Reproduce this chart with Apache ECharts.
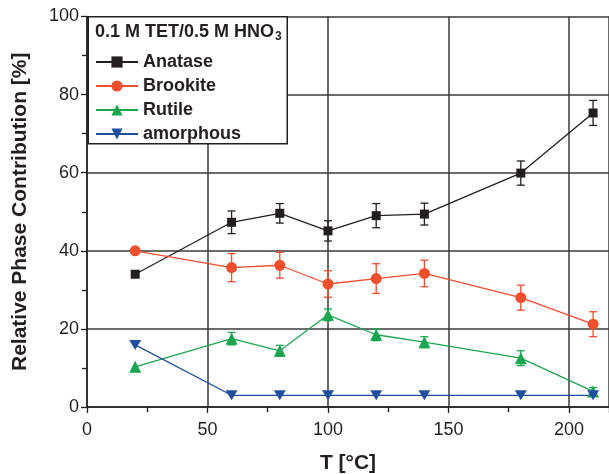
<!DOCTYPE html>
<html><head><meta charset="utf-8">
<script src="https://cdn.jsdelivr.net/npm/echarts@6/dist/echarts.min.js"></script>
<style>html,body{margin:0;padding:0;background:#fff}#c{width:609px;height:474px}</style>
</head><body><div id="c"></div>
<script>
const temps = [20, 60, 80, 100, 120, 140, 180, 210];
const anatase = [34.0, 47.3, 49.6, 45.1, 49.0, 49.4, 59.9, 75.3];
const anataseErr = [0, 2.9, 2.5, 2.6, 3.1, 2.8, 3.1, 3.2];
const brookite = [40.0, 35.7, 36.3, 31.5, 32.9, 34.2, 28.0, 21.2];
const brookiteErr = [0, 3.6, 3.3, 3.4, 3.8, 3.4, 3.2, 3.2];
const rutile = [10.3, 17.5, 14.4, 23.6, 18.5, 16.6, 12.5, 4.0];
const rutileErr = [0, 1.6, 1.4, 1.5, 1.5, 1.4, 1.9, 1.0];
const amorphous = [15.9, 3.0, 3.0, 3.0, 3.0, 3.0, 3.0, 3.0];
const seriesNames = ['Anatase', 'Brookite', 'Rutile', 'amorphous'];
const legendTitle = '0.1 M TET/0.5 M HNO';
const legendTitleSub = '3';
const xTicks = [0, 50, 100, 150, 200];
const yTicks = [0, 20, 40, 60, 80, 100];

const colors = ['#231f20', '#ef4f2d', '#1aa650', '#1f4f9f'];
const FONT = '"Liberation Sans", Arial, sans-serif';
const ink = '#231f20';

function pts(vals) { return temps.map((t, i) => [t, vals[i]]); }
function errData(vals, errs) { return temps.map((t, i) => [t, vals[i], errs[i]]); }

function errSeries(vals, errs, color) {
  return {
    type: 'custom',
    data: errData(vals, errs),
    z: 1,
    silent: true,
    renderItem: function (params, api) {
      const x = api.value(0), y = api.value(1), e = api.value(2);
      if (!e) return null;
      const top = api.coord([x, y + e]);
      const bot = api.coord([x, y - e]);
      const w = 4;
      return {
        type: 'group',
        children: [
          { type: 'line', shape: { x1: top[0], y1: top[1], x2: bot[0], y2: bot[1] }, style: { stroke: color, lineWidth: 1.3 } },
          { type: 'line', shape: { x1: top[0] - w, y1: top[1], x2: top[0] + w, y2: top[1] }, style: { stroke: color, lineWidth: 1.3 } },
          { type: 'line', shape: { x1: bot[0] - w, y1: bot[1], x2: bot[0] + w, y2: bot[1] }, style: { stroke: color, lineWidth: 1.3 } }
        ]
      };
    }
  };
}

function lineSeries(name, vals, color, symbol, size, rot) {
  return {
    name: name, type: 'line', data: pts(vals), z: 3,
    symbol: symbol, symbolSize: size, symbolRotate: rot || 0,
    showAllSymbol: true,
    lineStyle: { color: color, width: 1.3 },
    itemStyle: { color: color, borderWidth: 0 },
    emphasis: { disabled: true },
    animation: false
  };
}

const chart = echarts.init(document.getElementById('c'), null, { renderer: 'canvas' });
chart.setOption({
  animation: false,
  backgroundColor: '#fff',
  grid: { left: 87, right: 0, top: 16.5, bottom: 67, containLabel: false, outerBoundsMode: 'none' },
  xAxis: {
    type: 'value', min: 0, max: 216.6, interval: 50,
    name: 'T [°C]', nameLocation: 'middle', nameGap: 46,
    nameTextStyle: { fontFamily: FONT, fontWeight: 'bold', fontSize: 21, color: ink },
    axisLine: { show: true, lineStyle: { color: ink, width: 1.5 } },
    axisTick: { show: true, inside: false, length: 6, lineStyle: { color: ink, width: 1.3 } },
    minorTick: { show: true, splitNumber: 2, length: 5, lineStyle: { color: ink, width: 1.3 } },
    splitLine: { show: true, lineStyle: { color: '#3a3a3a', width: 1.5 } },
    axisLabel: {
      fontFamily: FONT, fontSize: 18, color: ink, margin: 14,
      showMaxLabel: false,
      formatter: v => (xTicks.indexOf(v) >= 0 ? String(v) : '')
    }
  },
  yAxis: {
    type: 'value', min: 0, max: 100, interval: 20,
    name: 'Relative Phase Contribution [%]', nameLocation: 'middle', nameGap: 56,
    nameTextStyle: { fontFamily: FONT, fontWeight: 'bold', fontSize: 21, color: ink },
    axisLine: { show: true, lineStyle: { color: ink, width: 1.5 } },
    axisTick: { show: true, inside: false, length: 6, lineStyle: { color: ink, width: 1.3 } },
    minorTick: { show: true, splitNumber: 2, length: 5, lineStyle: { color: ink, width: 1.3 } },
    splitLine: { show: true, lineStyle: { color: '#3a3a3a', width: 1.5 } },
    axisLabel: {
      fontFamily: FONT, fontSize: 18, color: ink, margin: 8,
      formatter: v => (yTicks.indexOf(v) >= 0 ? String(v) : '')
    }
  },
  legend: {
    data: seriesNames,
    orient: 'vertical',
    left: 95, top: 53,
    z: 20,
    itemWidth: 42, itemHeight: 14, itemGap: 6,
    padding: 0,
    textStyle: { fontFamily: FONT, fontWeight: 'bold', fontSize: 18, color: ink, padding: [0, 0, 0, 0] },
    selectedMode: false
  },
  graphic: [
    { type: 'rect', z: 10, left: 87.5, top: 16, shape: { width: 199, height: 127 },
      style: { fill: '#fff', stroke: ink, lineWidth: 1.5 }, silent: true },
    { type: 'text', z: 21, left: 95, top: 23,
      style: { text: legendTitle, font: 'bold 18px ' + FONT, fill: ink } },
    { type: 'text', z: 21, left: 275, top: 31,
      style: { text: legendTitleSub, font: 'bold 12px ' + FONT, fill: ink } }
  ],
  series: [
    errSeries(anatase, anataseErr, colors[0]),
    errSeries(brookite, brookiteErr, colors[1]),
    errSeries(rutile, rutileErr, colors[2]),
    lineSeries(seriesNames[0], anatase, colors[0], 'rect', 9),
    lineSeries(seriesNames[1], brookite, colors[1], 'circle', 11),
    lineSeries(seriesNames[2], rutile, colors[2], 'triangle', 12),
    lineSeries(seriesNames[3], amorphous, colors[3], 'triangle', [12, 10], 180)
  ]
});
</script></body></html>
